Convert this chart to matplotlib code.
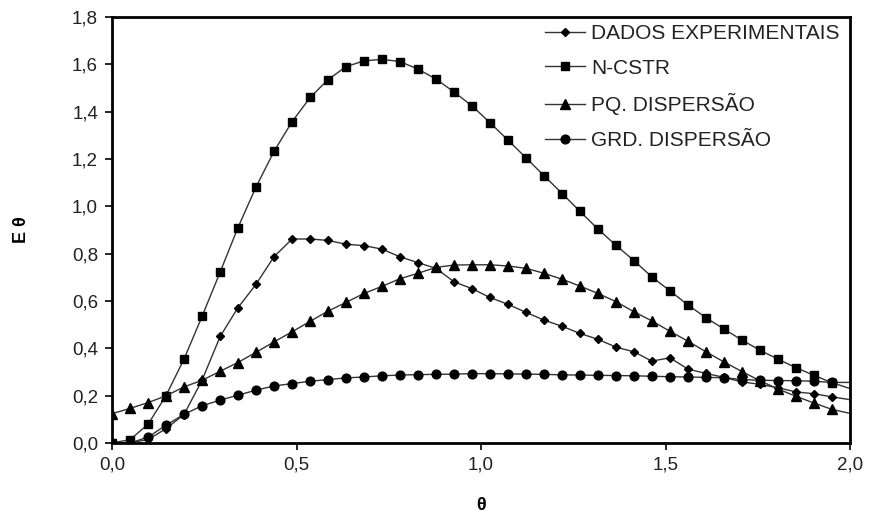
import matplotlib
matplotlib.use("Agg")
import matplotlib.pyplot as plt
from matplotlib.ticker import FuncFormatter, MultipleLocator

plt.rcParams['font.family'] = ['Liberation Sans', 'DejaVu Sans']

theta = [0.000, 0.049, 0.098, 0.146, 0.195, 0.244, 0.293, 0.341, 0.390, 0.439,
         0.488, 0.537, 0.585, 0.634, 0.683, 0.732, 0.780, 0.829, 0.878, 0.927,
         0.976, 1.024, 1.073, 1.122, 1.171, 1.220, 1.268, 1.317, 1.366, 1.415,
         1.463, 1.512, 1.561, 1.610, 1.659, 1.707, 1.756, 1.805, 1.854, 1.902,
         1.951, 2.000]

dados = [0.0, 0.0, 0.015, 0.06, 0.12, 0.265, 0.45, 0.571, 0.670, 0.787,
         0.862, 0.862, 0.856, 0.840, 0.834, 0.819, 0.787, 0.762, 0.738, 0.681,
         0.652, 0.615, 0.586, 0.552, 0.519, 0.493, 0.463, 0.438, 0.405, 0.385,
         0.346, 0.360, 0.312, 0.294, 0.277, 0.258, 0.248, 0.233, 0.216, 0.208,
         0.195, 0.183]

ncstr = [0.0, 0.014, 0.08, 0.199, 0.354, 0.535, 0.722, 0.909, 1.081, 1.232,
         1.358, 1.460, 1.535, 1.590, 1.615, 1.621, 1.612, 1.580, 1.538, 1.483,
         1.424, 1.354, 1.280, 1.205, 1.129, 1.054, 0.979, 0.904, 0.835, 0.770,
         0.702, 0.643, 0.583, 0.529, 0.481, 0.435, 0.392, 0.354, 0.318, 0.286,
         0.255, 0.230]

pq_disp = [0.124, 0.146, 0.171, 0.199, 0.237, 0.265, 0.303, 0.340, 0.383, 0.427,
           0.470, 0.514, 0.557, 0.594, 0.632, 0.662, 0.694, 0.717, 0.742, 0.752,
           0.753, 0.753, 0.748, 0.738, 0.717, 0.692, 0.663, 0.632, 0.597, 0.554,
           0.516, 0.472, 0.430, 0.385, 0.342, 0.302, 0.263, 0.228, 0.197, 0.169,
           0.142, 0.125]

grd_disp = [0.0, 0.0, 0.025, 0.075, 0.121, 0.157, 0.181, 0.202, 0.223, 0.241,
            0.251, 0.261, 0.268, 0.275, 0.279, 0.284, 0.287, 0.289, 0.290, 0.291,
            0.293, 0.293, 0.292, 0.291, 0.290, 0.288, 0.287, 0.286, 0.285, 0.284,
            0.282, 0.280, 0.279, 0.277, 0.276, 0.268, 0.265, 0.264, 0.263, 0.261,
            0.256, 0.256]

labels = ['DADOS EXPERIMENTAIS', 'N-CSTR', 'PQ. DISPERSÃO', 'GRD. DISPERSÃO']
xticks = [0.0, 0.5, 1.0, 1.5, 2.0]

fig = plt.figure(figsize=(8.71, 5.16), dpi=100)
ax = fig.add_axes([0.1286, 0.1415, 0.9759 - 0.1286, 0.967 - 0.1415])

series = [(dados, 'D', 4.5), (ncstr, 's', 6.3), (pq_disp, '^', 6.5), (grd_disp, 'o', 6.3)]
nmark = len(theta) - 1
for (ys, mk, ms), lab in zip(series, labels):
    ax.plot(theta, ys, color='#333333', lw=1.0, marker=mk, markersize=ms,
            markerfacecolor='black', markeredgecolor='black',
            markevery=slice(0, nmark), label=lab, clip_on=True)

ax.set_xlim(0, 2.0)
ax.set_ylim(0, 1.8)
ax.set_xticks(xticks)
ax.yaxis.set_major_locator(MultipleLocator(0.2))
fmt = FuncFormatter(lambda v, p: f"{v:.1f}".replace('.', ','))
ax.xaxis.set_major_formatter(fmt)
ax.yaxis.set_major_formatter(fmt)
ax.tick_params(direction='out', length=5, width=1.2, labelsize=13.5,
               labelcolor='#222222', pad=5)
for s in ax.spines.values():
    s.set_linewidth(2.0)
    s.set_color('black')

ax.set_xlabel('θ', fontsize=13, fontweight='bold', labelpad=17)
ax.set_ylabel('E θ', fontsize=13, fontweight='bold', labelpad=30)

leg = ax.legend(loc='upper right', bbox_to_anchor=(1.0, 1.008), frameon=False,
                fontsize=15, handlelength=1.9, handletextpad=0.3,
                labelspacing=0.75, borderaxespad=0.1)
for t in leg.get_texts():
    t.set_color('#222222')

fig.savefig('out.png', dpi=100)
